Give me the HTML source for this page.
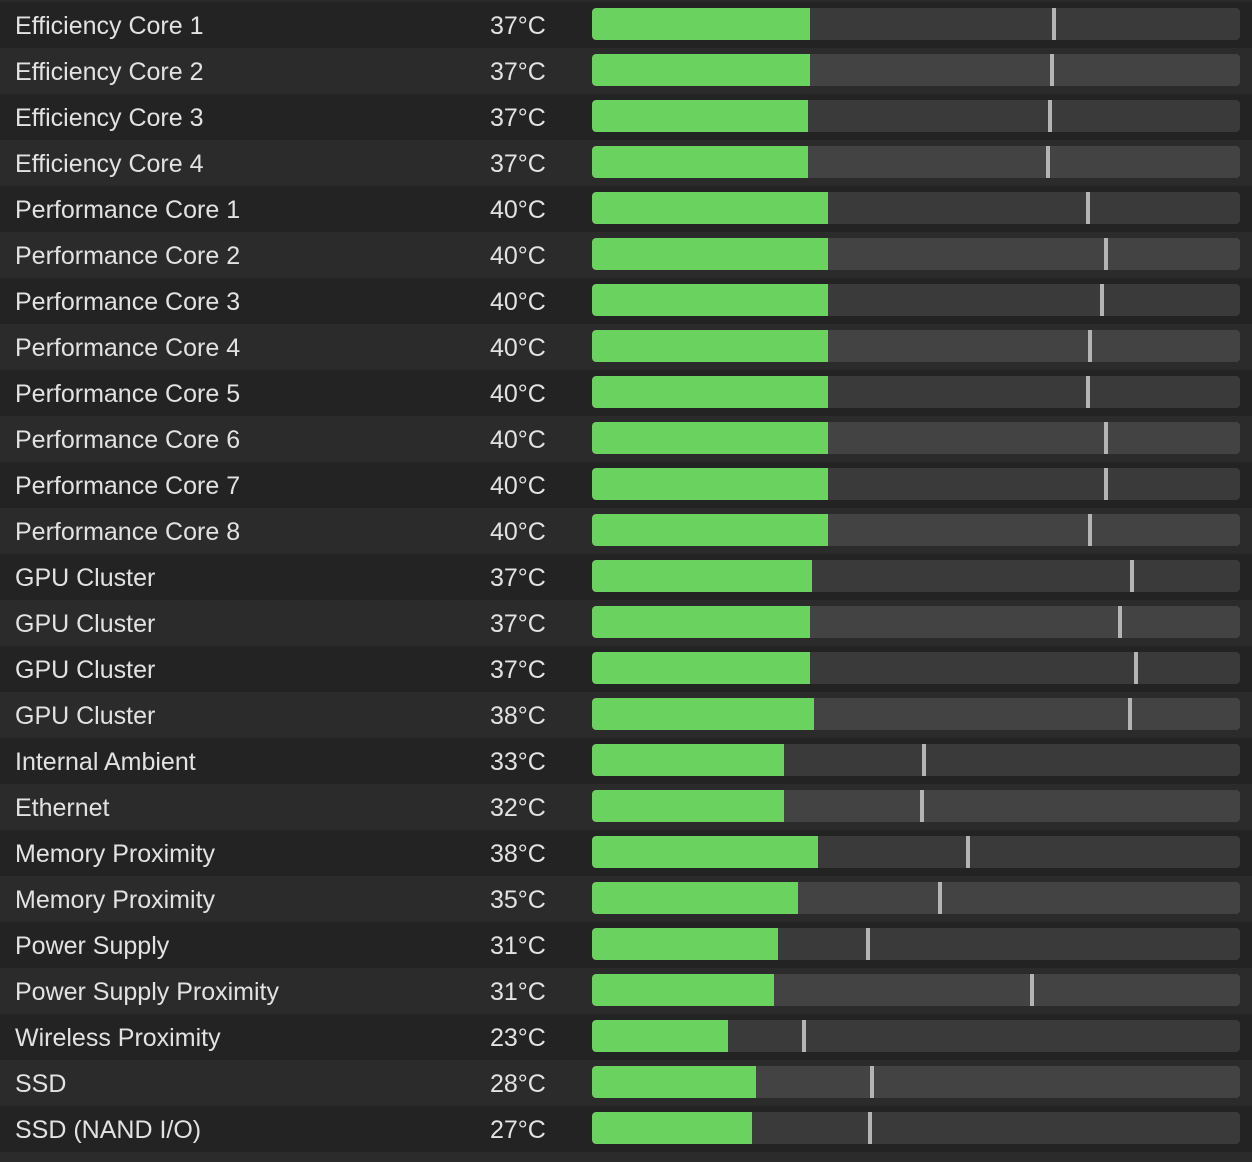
<!DOCTYPE html>
<html><head><meta charset="utf-8">
<style>
html,body{margin:0;padding:0;background:#2b2b2b;}
#wrap{position:relative;width:1252px;height:1162px;overflow:hidden;background:#2b2b2b;font-family:"Liberation Sans",sans-serif;}
.row{position:absolute;left:0;width:1252px;height:46px;}
.row.d{background:#232323;}
.row.l{background:#2b2b2b;}
.lbl{position:absolute;left:15px;top:0;line-height:48px;font-size:25px;color:#e2e2e2;white-space:nowrap;}
.tmp{position:absolute;left:490px;top:0;line-height:48px;font-size:25px;color:#e2e2e2;}
.track{position:absolute;left:592px;top:6px;width:648px;height:32px;border-radius:4px;overflow:hidden;}
.d .track{background:#3a3a3a;}
.l .track{background:#434343;}
.fill{position:absolute;left:0;top:0;height:32px;background:#6ad35f;border-radius:4px 0 0 4px;}
.mark{position:absolute;top:0;width:4px;height:32px;background:#b4b4b4;}
</style></head>
<body>
<div id="wrap"></div>
<script>
const labels=["Efficiency Core 1","Efficiency Core 2","Efficiency Core 3","Efficiency Core 4","Performance Core 1","Performance Core 2","Performance Core 3","Performance Core 4","Performance Core 5","Performance Core 6","Performance Core 7","Performance Core 8","GPU Cluster","GPU Cluster","GPU Cluster","GPU Cluster","Internal Ambient","Ethernet","Memory Proximity","Memory Proximity","Power Supply","Power Supply Proximity","Wireless Proximity","SSD","SSD (NAND I/O)"];
const temps=[37,37,37,37,40,40,40,40,40,40,40,40,37,37,37,38,33,32,38,35,31,31,23,28,27];
const fillPct=[33.6,33.6,33.3,33.3,36.4,36.4,36.4,36.4,36.4,36.4,36.4,36.4,34.0,33.6,33.6,34.3,29.6,29.6,34.9,31.8,28.7,28.1,21.0,25.3,24.7];
const maxPct=[71.3,71.0,70.7,70.4,76.5,79.3,78.7,76.9,76.5,79.3,79.3,76.9,83.3,81.5,83.9,83.0,51.2,50.9,58.0,53.7,42.6,67.9,32.7,43.2,42.9];
const wrap=document.getElementById('wrap');
const TRACK=648, TOP=2, RH=46;
labels.forEach((name,i)=>{
  const row=document.createElement('div');
  row.className='row '+(i%2===0?'d':'l');
  row.style.top=(TOP+i*RH)+'px';
  
  
  const lb=document.createElement('div');lb.className='lbl';lb.textContent=name;
  
  
  const t=document.createElement('div');t.className='tmp';t.textContent=temps[i]+'°C';
  
  
  const tr=document.createElement('div');tr.className='track';
  
  
  const f=document.createElement('div');f.className='fill';f.style.width=(fillPct[i]/100*TRACK)+'px';
  
  
  const m=document.createElement('div');m.className='mark';m.style.left=(maxPct[i]/100*TRACK-2)+'px';
  
  
  tr.appendChild(f);tr.appendChild(m);
  row.appendChild(lb);row.appendChild(t);row.appendChild(tr);
  wrap.appendChild(row);
});
</script>
</body></html>
